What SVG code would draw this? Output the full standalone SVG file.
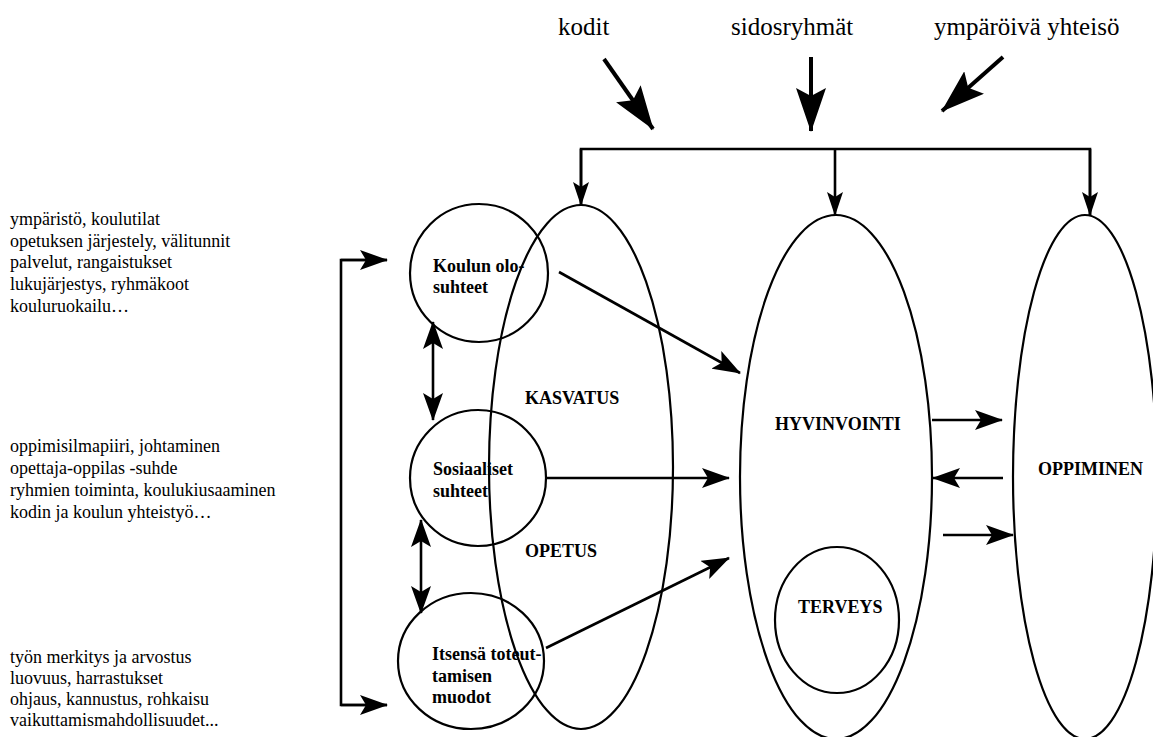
<svg xmlns="http://www.w3.org/2000/svg" width="1153" height="737" viewBox="0 0 1153 737">
<style>
  .txt{font-family:"Liberation Serif","Times New Roman",serif;font-size:18px;fill:#000}
  .lbl{font-family:"Liberation Serif","Times New Roman",serif;font-size:18px;font-weight:bold;fill:#000}
  .top{font-family:"Liberation Serif","Times New Roman",serif;font-size:25px;fill:#000}
  .shape{fill:none;stroke:#000;stroke-width:2.2}
  .con{fill:none;stroke:#000;stroke-width:2.6}
  .thick{fill:none;stroke:#000;stroke-width:4}
</style>
<defs>
  <marker id="ah" viewBox="0 0 28 20" markerWidth="28" markerHeight="20" refX="27" refY="10" orient="auto-start-reverse" markerUnits="userSpaceOnUse">
    <path d="M0,0 L28,10 L0,20 L6,10 Z" fill="#000"/>
  </marker>
  <marker id="ahs" viewBox="0 0 24 16" markerWidth="24" markerHeight="16" refX="23" refY="8" orient="auto-start-reverse" markerUnits="userSpaceOnUse">
    <path d="M0,0 L24,8 L0,16 L5,8 Z" fill="#000"/>
  </marker>
  <marker id="big" viewBox="0 0 44 30" markerWidth="44" markerHeight="30" refX="43" refY="15" orient="auto" markerUnits="userSpaceOnUse">
    <path d="M0,0 L44,15 L0,30 L8,15 Z" fill="#000"/>
  </marker>
</defs>

<g id="top-labels">
  <text class="top" x="558" y="35">kodit</text>
  <text class="top" x="731" y="35">sidosryhmät</text>
  <text class="top" x="934" y="35">ympäröivä yhteisö</text>
</g>

<g id="left-texts">
  <text class="txt" x="10" y="225">ympäristö, koulutilat</text>
  <text class="txt" x="10" y="247">opetuksen järjestely, välitunnit</text>
  <text class="txt" x="10" y="268">palvelut, rangaistukset</text>
  <text class="txt" x="10" y="290">lukujärjestys, ryhmäkoot</text>
  <text class="txt" x="10" y="312">kouluruokailu…</text>

  <text class="txt" x="10" y="452">oppimisilmapiiri, johtaminen</text>
  <text class="txt" x="10" y="474">opettaja-oppilas -suhde</text>
  <text class="txt" x="10" y="496">ryhmien toiminta, koulukiusaaminen</text>
  <text class="txt" x="10" y="518">kodin ja koulun yhteistyö…</text>

  <text class="txt" x="10" y="663">työn merkitys ja arvostus</text>
  <text class="txt" x="10" y="684">luovuus, harrastukset</text>
  <text class="txt" x="10" y="705">ohjaus, kannustus, rohkaisu</text>
  <text class="txt" x="10" y="726">vaikuttamismahdollisuudet...</text>
</g>

<g id="kasvatus">
  <ellipse class="shape" cx="581" cy="467" rx="92" ry="262"/>
  <text class="lbl" x="525" y="404">KASVATUS</text>
  <text class="lbl" x="525" y="557">OPETUS</text>
</g>

<g id="hyvinvointi">
  <ellipse class="shape" cx="836" cy="477" rx="96" ry="262"/>
  <text class="lbl" x="775" y="430">HYVINVOINTI</text>
</g>

<g id="terveys">
  <ellipse class="shape" cx="837" cy="620" rx="62" ry="73"/>
  <text class="lbl" x="798" y="613">TERVEYS</text>
</g>

<g id="oppiminen">
  <ellipse class="shape" cx="1085" cy="477" rx="72" ry="262"/>
  <text class="lbl" x="1038" y="475">OPPIMINEN</text>
</g>

<g id="koulun-olosuhteet">
  <circle class="shape" cx="479" cy="273" r="69"/>
  <text class="lbl" x="433" y="272">Koulun olo-</text>
  <text class="lbl" x="433" y="293">suhteet</text>
</g>

<g id="sosiaaliset-suhteet">
  <circle class="shape" cx="478" cy="478" r="68"/>
  <text class="lbl" x="433" y="475">Sosiaaliset</text>
  <text class="lbl" x="433" y="497">suhteet</text>
</g>

<g id="itsensa-toteuttamisen-muodot">
  <ellipse class="shape" cx="471" cy="661" rx="73" ry="68"/>
  <text class="lbl" x="432" y="660">Itsensä toteut-</text>
  <text class="lbl" x="432" y="682">tamisen</text>
  <text class="lbl" x="432" y="703">muodot</text>
</g>

<g id="connectors">
  <!-- top influence arrows -->
  <line class="thick" x1="604" y1="59" x2="653" y2="129" marker-end="url(#big)"/>
  <line class="thick" x1="811" y1="57" x2="811" y2="131" marker-end="url(#big)"/>
  <line class="thick" x1="1003" y1="57" x2="942" y2="111" marker-end="url(#big)"/>

  <!-- top bracket -->
  <polyline class="con" points="581,205 581,149 1090,149 1090,215"/>
  <line class="con" x1="581" y1="149" x2="581" y2="205" marker-end="url(#ahs)"/>
  <line class="con" x1="835" y1="149" x2="835" y2="215" marker-end="url(#ahs)"/>
  <line class="con" x1="1090" y1="149" x2="1090" y2="215" marker-end="url(#ahs)"/>

  <!-- left bracket -->
  <polyline class="con" points="387,260 341,260 341,705 387,705"/>
  <line class="con" x1="341" y1="260" x2="387" y2="260" marker-end="url(#ah)"/>
  <line class="con" x1="341" y1="705" x2="387" y2="705" marker-end="url(#ah)"/>

  <!-- double arrows between circles -->
  <line class="con" x1="433" y1="322" x2="433" y2="420" marker-start="url(#ah)" marker-end="url(#ah)"/>
  <line class="con" x1="421" y1="520" x2="421" y2="613" marker-start="url(#ah)" marker-end="url(#ah)"/>

  <!-- circles to HYVINVOINTI -->
  <line class="con" x1="559" y1="272" x2="740" y2="373" marker-end="url(#ah)"/>
  <line class="con" x1="547" y1="478" x2="729" y2="478" marker-end="url(#ah)"/>
  <line class="con" x1="546" y1="648" x2="729" y2="558" marker-end="url(#ah)"/>

  <!-- HYVINVOINTI <-> OPPIMINEN -->
  <line class="con" x1="932" y1="420" x2="1002" y2="420" marker-end="url(#ah)"/>
  <line class="con" x1="1003" y1="478" x2="933" y2="478" marker-end="url(#ah)"/>
  <line class="con" x1="943" y1="535" x2="1013" y2="535" marker-end="url(#ah)"/>
</g>
</svg>
